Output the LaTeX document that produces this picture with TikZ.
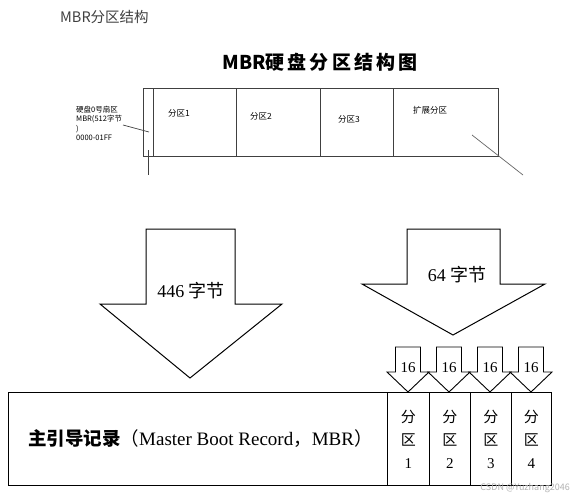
\documentclass[tikz,border=0pt]{standalone}
\usepackage{fontspec}
\setmainfont{Liberation Serif}
\newfontfamily\cjk{Noto Sans CJK SC}
\begin{document}
\begin{tikzpicture}[x=1pt,y=-1pt,
  cell/.style={draw=black!75,line width=0.8pt,minimum height=68pt,inner sep=0pt,anchor=north west},
  part/.style={draw=black,line width=0.9pt,minimum height=93pt,inner sep=0pt,anchor=north west},
  bigarrow/.style={draw=black,line width=1pt,fill=white,line join=miter},
  small/.style={font=\cjk\fontsize{8.5}{10}\selectfont,anchor=west,inner sep=0pt}]
\useasboundingbox (0,0) rectangle (575,500);
\fill[white] (0,0) rectangle (575,500);
% titles
\node[anchor=west,inner sep=0pt,text=black!75,font=\cjk\fontsize{14.5}{16}\selectfont] (title) at (60,17) {MBR分区结构};
\node[inner sep=0pt,font=\cjk\bfseries\fontsize{19}{22}\selectfont] (title2) at (320,62) {MBR硬\,盘\,分\,区\,结\,构\,图};
% top partition bar
\node[cell,minimum width=10pt] (mbr) at (143,88) {};
\node[cell,minimum width=83pt] (p1) at (153,88) {};
\node[cell,minimum width=84pt] (p2) at (236,88) {};
\node[cell,minimum width=73pt] (p3) at (320,88) {};
\node[cell,minimum width=105pt] (ext) at (393,88) {};
\node[small] (l1) at (168,113) {分区1};
\node[small] (l2) at (250,116) {分区2};
\node[small] (l3) at (338,119) {分区3};
\node[small] (l4) at (413,110) {扩展分区};
\node[anchor=north west,inner sep=0pt,align=left,font=\cjk\fontsize{7.5}{9.4}\selectfont] (mbrlab) at (76,106) {硬盘0号扇区\\MBR(512字节\\)\\0000-01FF};
\coordinate (a1) at (123,125);
\coordinate (a2) at (149,132);
\draw[black!75,line width=0.7pt] (a1) -- (a2);
\coordinate (v1) at (148,150);
\coordinate (v2) at (148,175);
\draw[black!75,line width=0.7pt] (v1) -- (v2);
\coordinate (d1) at (472,135);
\coordinate (d2) at (523,175);
\draw[black!60,line width=0.7pt] (d1) -- (d2);
% big arrows
\draw[bigarrow] (146,229) -- (235,229) -- (235,304) -- (282,304) -- (190,378) -- (100,304) -- (146,304) -- cycle;
\node[inner sep=0pt,font=\fontsize{18}{20}\selectfont] (t446) at (191,291) {446 {\cjk 字节}};
\draw[bigarrow] (407,229) -- (500,229) -- (500,284) -- (545,284) -- (453,335) -- (362,284) -- (407,284) -- cycle;
\node[inner sep=0pt,font=\fontsize{18}{20}\selectfont] (t64) at (457,275) {64 {\cjk 字节}};
% small arrows
\foreach \c/\n in {408/s1,449/s2,490/s3,531/s4}{
  \draw[bigarrow,line width=0.9pt] (\c-12.5,347) -- (\c+12.5,347) -- (\c+12.5,372) -- (\c+21,372) -- (\c,392) -- (\c-21,372) -- (\c-12.5,372) -- cycle;
  \node[inner sep=0pt,font=\fontsize{15}{16}\selectfont] (\n) at (\c,368) {16};
}
% bottom bar
\node[part,minimum width=379pt] (main) at (8,392) {};
\node[part,minimum width=42pt] (q1) at (387,392) {};
\node[part,minimum width=41pt] (q2) at (429,392) {};
\node[part,minimum width=41pt] (q3) at (470,392) {};
\node[part,minimum width=40pt] (q4) at (511,392) {};
\node[anchor=west,inner sep=0pt,font=\fontsize{19}{20}\selectfont] (maintext) at (28,439) {{\cjk\bfseries\fontsize{18.5}{19}\selectfont 主引导记录}{\cjk\fontsize{18.5}{19}\selectfont （}Master Boot Record{\cjk\fontsize{18.5}{19}\selectfont ，}MBR{\cjk\fontsize{18.5}{19}\selectfont ）}};
\foreach \q/\d in {q1/1,q2/2,q3/3,q4/4}{
  \node[inner sep=0pt,align=center,font=\fontsize{15}{23}\selectfont] (\q t) at (\q.center) {{\cjk 分}\\{\cjk 区}\\\d};
}
\node[anchor=east,inner sep=0pt,text=black!30,font=\cjk\fontsize{9}{10}\selectfont] (wm) at (570,488) {CSDN @Yuzhang2046};
\end{tikzpicture}
\end{document}
